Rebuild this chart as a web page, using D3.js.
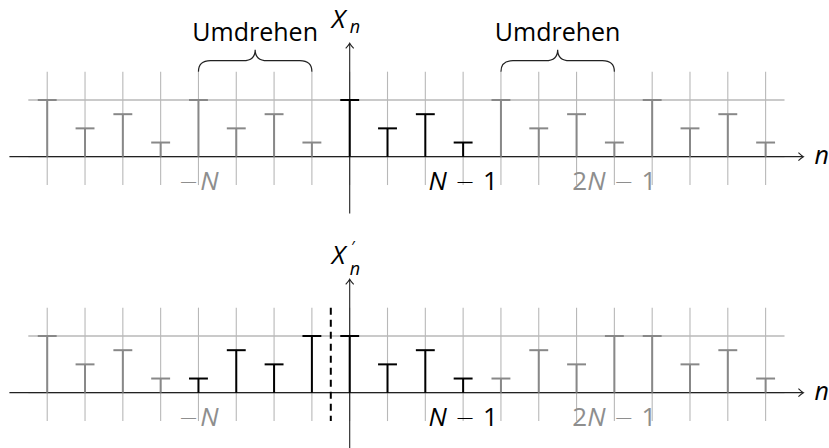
<!DOCTYPE html>
<html><head><meta charset="utf-8">
<script src="https://cdn.jsdelivr.net/npm/d3@7"></script>
<style>
html,body{margin:0;padding:0;background:#fff;}
text{font-family:"Open Sans",sans-serif;}
</style></head>
<body><svg id="c" width="829" height="448"></svg>
<script>
// ---- data ----
const nIndex = [-8,-7,-6,-5,-4,-3,-2,-1,0,1,2,3,4,5,6,7,8,9,10,11];
const topValues = [4,2,3,1, 4,2,3,1, 4,2,3,1, 4,2,3,1, 4,2,3,1];
const bottomValues = [4,2,3,1, 1,3,2,4, 4,2,3,1, 1,3,2,4, 4,2,3,1];
const topHighlight = [0,3];      // black samples n in [0,3]
const bottomHighlight = [-4,3];  // black samples n in [-4,3]
// each part: [text, kind, gap] kind: "i" italic, "r" roman, "m" minus sign
const tickLabels = [
  {n:-4, parts:[["−","m",0],["N","i",2]], dark:false},
  {n:3, parts:[["N","i",0],["−","m",8],["1","r",8]], dark:true},
  {n:7, parts:[["2","r",0],["N","i",0],["−","m",8],["1","r",8]], dark:false}
];
const braceSpans = [[-4,-1],[4,7]];
const braceLabel = "Umdrehen";

// ---- layout ----
const svg = d3.select("#c");
const unitX = 37.81, unitY = 14.17, x0 = 349.7;
const x = d3.scaleLinear().domain([-9,12]).range([x0-9*unitX, x0+12*unitX]);
const GRAY = "#888", GRID = "#b8b8b8", LGRAY = "#8e8e8e";

function panel(originY, values, hl, opts){
  const y = d3.scaleLinear().domain([-4,8]).range([originY+4*unitY, originY-8*unitY]);
  const g = svg.append("g");
  // grid
  g.selectAll(".gv").data(nIndex).join("line")
    .attr("x1",d=>x(d)).attr("x2",d=>x(d)).attr("y1",y(-2)).attr("y2",y(6))
    .attr("stroke",GRID).attr("stroke-width",1.1);
  g.selectAll(".gh").data([0,4]).join("line")
    .attr("x1",x(-8.5)).attr("x2",x(11.5)).attr("y1",d=>y(d)).attr("y2",d=>y(d))
    .attr("stroke",GRID).attr("stroke-width",1.3);
  // axes
  g.append("line").attr("x1",x(-9)).attr("x2",x(12)-0.5).attr("y1",y(0)).attr("y2",y(0))
    .attr("stroke","#222").attr("stroke-width",1.2);
  g.append("line").attr("x1",x(0)).attr("x2",x(0)).attr("y1",y(-4)).attr("y2",y(8)+0.5)
    .attr("stroke","#222").attr("stroke-width",1.1);
  // arrow heads
  const ax = x(12), ay = y(0);
  g.append("path").attr("d",`M${ax-5},${ay-4} Q${ax-2},${ay-1} ${ax},${ay} Q${ax-2},${ay+1} ${ax-5},${ay+4}`)
    .attr("fill","none").attr("stroke","#222").attr("stroke-width",1.1);
  const bx = x(0), by = y(8);
  g.append("path").attr("d",`M${bx-4},${by+5} Q${bx-1},${by+2} ${bx},${by} Q${bx+1},${by+2} ${bx+4},${by+5}`)
    .attr("fill","none").attr("stroke","#222").attr("stroke-width",1.1);
  // stems
  const data = nIndex.map((n,i)=>({n, v:values[i], dark: n>=hl[0] && n<=hl[1]}));
  const s = g.selectAll(".stem").data(data).join("g");
  s.append("line").attr("x1",d=>x(d.n)).attr("x2",d=>x(d.n)).attr("y1",y(0)).attr("y2",d=>y(d.v))
    .attr("stroke",d=>d.dark?"#000":GRAY).attr("stroke-width",2);
  s.append("line").attr("x1",d=>x(d.n-0.25)).attr("x2",d=>x(d.n+0.25)).attr("y1",d=>y(d.v)).attr("y2",d=>y(d.v))
    .attr("stroke",d=>d.dark?"#000":GRAY).attr("stroke-width",2);
  // tick labels
  tickLabels.forEach(t=>{
    const tx = g.append("text").attr("x",x(t.n)).attr("y",y(0)+33).attr("text-anchor","middle")
      .attr("font-size",26).attr("fill",t.dark?"#000":LGRAY);
    t.parts.forEach(p=>{
      const ts = tx.append("tspan").text(p[0]).attr("dx",p[2]);
      if(p[1]==="i") ts.attr("font-style","italic");
      if(p[1]==="m") ts.attr("font-family","DejaVu Sans").attr("font-weight",200).attr("font-size",24);
    });
  });
  // n label
  g.append("text").attr("x",x(12)+11).attr("y",y(0)+7).attr("font-size",25).attr("font-style","italic").text("n");
  // y label
  g.append("text").attr("x",x(0)-18).attr("y",y(8)-15).attr("font-size",26).attr("font-style","italic").text("X");
  if(opts.prime){
    g.append("text").attr("x",x(0)+1.5).attr("y",y(8)-26).attr("font-size",16).text("′");
    g.append("text").attr("x",x(0)).attr("y",y(8)-4).attr("font-size",18).attr("font-style","italic").text("n");
  } else {
    g.append("text").attr("x",x(0)).attr("y",y(8)-10).attr("font-size",18).attr("font-style","italic").text("n");
  }
  if(opts.dashed){
    g.append("line").attr("x1",x(-0.5)).attr("x2",x(-0.5)).attr("y1",y(6)).attr("y2",y(-2))
      .attr("stroke","#000").attr("stroke-width",2).attr("stroke-dasharray","7,5");
  }
  if(opts.braces){
    braceSpans.forEach(b=>{
      const x1 = x(b[0]), x2 = x(b[1]), xc=(x1+x2)/2;
      const yb = y(6), ym = y(6)-11, yt = y(6)-22, r = 12;
      const d = `M${x1},${yb} Q${x1},${ym} ${x1+r},${ym} L${xc-r},${ym} Q${xc},${ym} ${xc},${yt} Q${xc},${ym} ${xc+r},${ym} L${x2-r},${ym} Q${x2},${ym} ${x2},${yb}`;
      g.append("path").attr("d",d).attr("fill","none").attr("stroke","#222").attr("stroke-width",1.2);
      g.append("text").attr("x",xc).attr("y",yt-9).attr("text-anchor","middle").attr("font-size",25).text(braceLabel);
    });
  }
}
panel(156.7, topValues, topHighlight, {braces:true});
panel(392.7, bottomValues, bottomHighlight, {prime:true, dashed:true});
</script></body></html>
